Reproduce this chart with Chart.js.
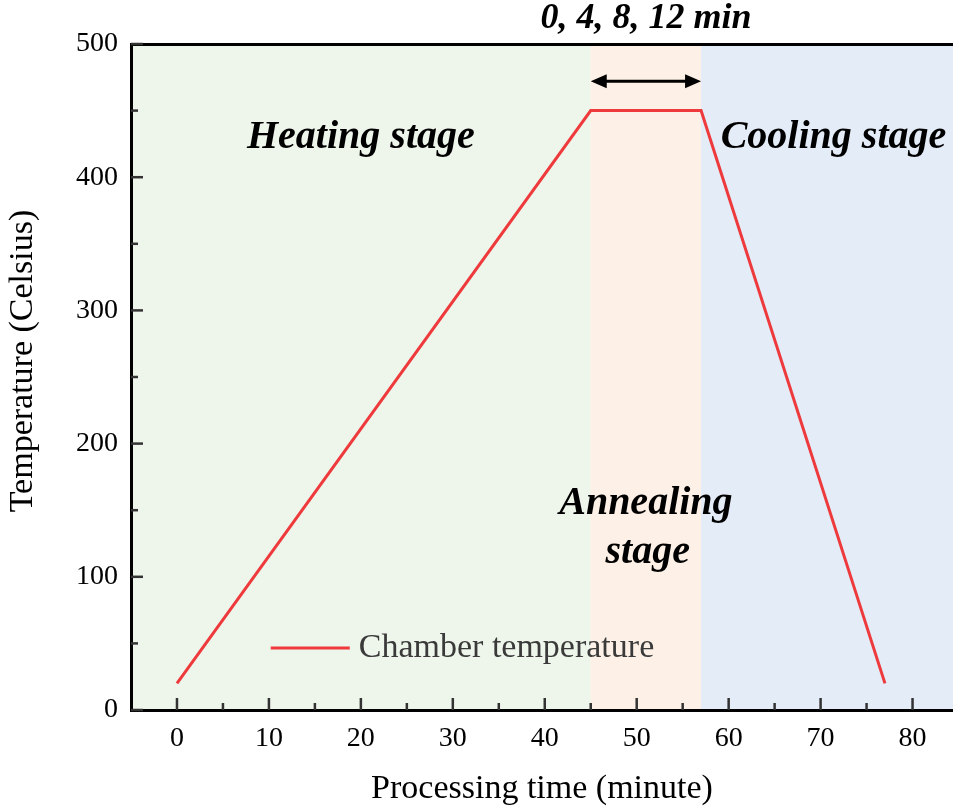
<!DOCTYPE html>
<html>
<head>
<meta charset="utf-8">
<script src="https://cdn.jsdelivr.net/npm/chart.js@4.4.0/dist/chart.umd.min.js"></script>
<style>
  html, body { margin: 0; padding: 0; background: #fff; overflow: hidden; }
  #wrap { width: 953px; height: 810px; }
</style>
</head>
<body>
<div id="wrap"><canvas id="myChart"></canvas></div>
<script>
// data
const times = [0, 45, 57, 77];
const temps = [20, 450, 450, 20];
const stageStart = [-5, 45, 57];
const stageEnd = [45, 57, 90];
const xTicks = [0, 10, 20, 30, 40, 50, 60, 70, 80];
const xMinor = [5, 15, 25, 35, 45, 55, 65, 75];
const yTicks = [0, 100, 200, 300, 400, 500];
const yMinor = [50, 150, 250, 350, 450];

const serif = "'Liberation Serif', 'Times New Roman', serif";
const stageColors = ['#eef5ea', '#fdf0e6', '#e3ecf7'];

const decor = {
    id: 'decor',
    beforeDraw(chart) {
        // stage backgrounds go under the axes
        const { ctx, chartArea: a, scales: { x } } = chart;
        ctx.save();
        stageStart.forEach((s, i) => {
            const l = Math.max(a.left, x.getPixelForValue(s));
            const r = Math.min(a.right, x.getPixelForValue(stageEnd[i]));
            ctx.fillStyle = stageColors[i];
            ctx.fillRect(l, a.top, r - l, a.bottom - a.top);
        });
        ctx.restore();
    },
    afterDatasetsDraw(chart) {
        const { ctx, chartArea: a, scales: { x, y } } = chart;
        ctx.save();
        // inward ticks
        ctx.strokeStyle = '#333';
        ctx.lineWidth = 2.5;
        const tickX = (v, len) => {
            const px = x.getPixelForValue(v);
            ctx.beginPath(); ctx.moveTo(px, a.bottom); ctx.lineTo(px, a.bottom - len); ctx.stroke();
        };
        const tickY = (v, len) => {
            const py = y.getPixelForValue(v);
            ctx.beginPath(); ctx.moveTo(a.left, py); ctx.lineTo(a.left + len, py); ctx.stroke();
        };
        xTicks.forEach(v => tickX(v, 12));
        xMinor.forEach(v => tickX(v, 7));
        yTicks.forEach(v => tickY(v, 12));
        yMinor.forEach(v => tickY(v, 7));

        // stage labels
        ctx.fillStyle = '#000';
        ctx.textAlign = 'center';
        ctx.textBaseline = 'middle';
        ctx.font = 'italic bold 40px ' + serif;
        ctx.fillText('Heating stage', x.getPixelForValue(20), y.getPixelForValue(430));
        ctx.fillText('Cooling stage', x.getPixelForValue(71.4), y.getPixelForValue(430));
        ctx.fillText('Annealing', x.getPixelForValue(51), y.getPixelForValue(155));
        ctx.fillText('stage', x.getPixelForValue(51.2), y.getPixelForValue(118));
        ctx.font = 'italic bold 36px ' + serif;
        ctx.fillText('0, 4, 8, 12 min', x.getPixelForValue(51), y.getPixelForValue(519));

        // double arrow over the annealing span
        const ax1 = x.getPixelForValue(45), ax2 = x.getPixelForValue(57), ay = y.getPixelForValue(472);
        ctx.strokeStyle = '#000';
        ctx.lineWidth = 3;
        ctx.beginPath(); ctx.moveTo(ax1 + 8, ay); ctx.lineTo(ax2 - 8, ay); ctx.stroke();
        ctx.beginPath();
        ctx.moveTo(ax1, ay); ctx.lineTo(ax1 + 16, ay - 7); ctx.lineTo(ax1 + 16, ay + 7); ctx.closePath();
        ctx.moveTo(ax2, ay); ctx.lineTo(ax2 - 16, ay - 7); ctx.lineTo(ax2 - 16, ay + 7); ctx.closePath();
        ctx.fill();

        // legend
        const lx = x.getPixelForValue(10.2), ly = y.getPixelForValue(46.5);
        ctx.strokeStyle = chart.data.datasets[0].borderColor;
        ctx.lineWidth = 3;
        ctx.beginPath(); ctx.moveTo(lx, ly); ctx.lineTo(lx + 79, ly); ctx.stroke();
        ctx.fillStyle = '#3a3a3a';
        ctx.textAlign = 'left';
        ctx.font = '34px ' + serif;
        ctx.fillText(chart.data.datasets[0].label, lx + 88, ly);

        // y axis title
        ctx.fillStyle = '#000';
        ctx.translate(23, 361);
        ctx.rotate(-Math.PI / 2);
        ctx.textAlign = 'center';
        ctx.fillText('Temperature (Celsius)', 0, 0);
        ctx.restore();
    }
};

const ctx = document.getElementById('myChart');
const chart = new Chart(ctx, {
    type: 'line',
    data: {
        datasets: [{
            label: 'Chamber temperature',
            data: times.map((t, i) => ({ x: t, y: temps[i] })),
            borderColor: '#ee3a3c',
            borderWidth: 3,
            pointRadius: 0,
            tension: 0,
            fill: false
        }]
    },
    options: {
        responsive: true,
        maintainAspectRatio: false,
        animation: false,
        layout: { padding: { top: 44, left: 0, right: 0, bottom: 0 } },
        plugins: { legend: { display: false }, tooltip: { enabled: false } },
        scales: {
            x: {
                type: 'linear',
                min: -5,
                max: 84.4,
                afterBuildTicks: s => { s.ticks = xTicks.map(v => ({ value: v })); },
                afterFit: s => { s.height = 100; },
                grid: { display: false, drawTicks: false },
                border: { display: true, width: 3, color: '#000' },
                ticks: { color: '#000', padding: 12, font: { family: serif, size: 28 } },
                title: {
                    display: true,
                    text: 'Processing time (minute)',
                    color: '#000',
                    font: { family: serif, size: 34, lineHeight: 1.2 },
                    padding: { top: 0, bottom: 1 }
                }
            },
            xTop: {
                type: 'linear',
                position: 'top',
                min: -5,
                max: 84.4,
                afterFit: s => { s.height = 0; },
                grid: { display: false, drawTicks: false },
                border: { display: true, width: 3, color: '#000' },
                ticks: { display: false }
            },
            y: {
                min: 0,
                max: 500,
                afterBuildTicks: s => { s.ticks = yTicks.map(v => ({ value: v })); },
                afterFit: s => { s.width = 131; },
                grid: { display: false, drawTicks: false },
                border: { display: true, width: 3, color: '#000' },
                ticks: { color: '#000', padding: 13, font: { family: serif, size: 28 } }
            }
        }
    },
    plugins: [decor]
});
</script>
</body>
</html>
